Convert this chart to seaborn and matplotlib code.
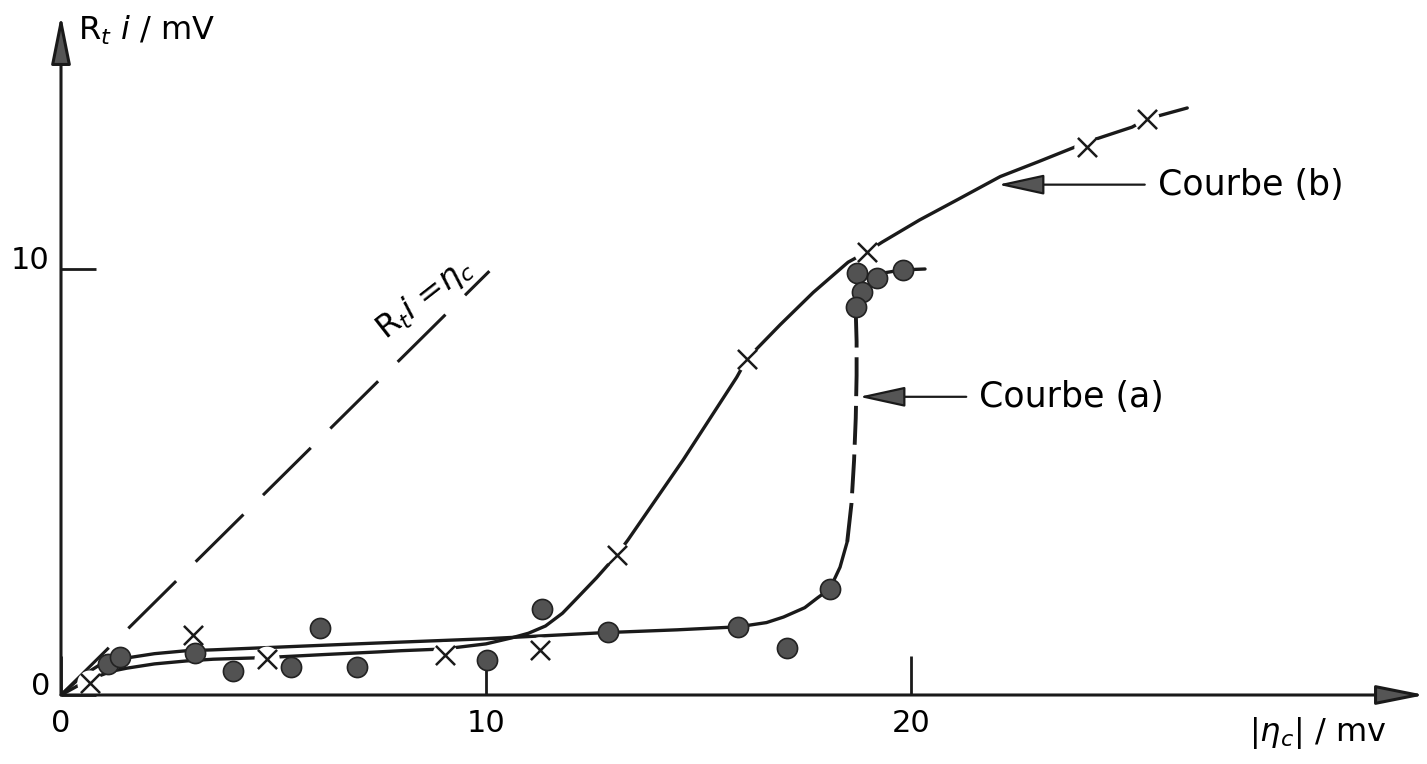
import matplotlib
matplotlib.use('Agg')
import matplotlib.pyplot as plt
import seaborn as sns

# curve (a): filled dots -- flat part, near-vertical dashed rise, top end
a_flat_x = [0, 0.5, 0.9, 1.2, 1.55, 2.2, 2.96, 3.58, 5.5, 7.44, 10.0, 12.7, 14.5,
            15.93, 16.6, 17.0, 17.5, 17.8, 18.09, 18.33, 18.5]
a_flat_y = [0, 0.45, 0.7, 0.8, 0.87, 0.97, 1.04, 1.06, 1.14, 1.22, 1.32, 1.46, 1.53,
            1.6, 1.7, 1.83, 2.05, 2.28, 2.49, 3.0, 3.6]
a_rise_x = [18.5, 18.6, 18.66, 18.7, 18.72, 18.72, 18.7]
a_rise_y = [3.6, 4.5, 5.5, 6.5, 7.5, 8.3, 9.0]
a_top_x = [18.7, 18.8, 19.3, 19.81, 20.33]
a_top_y = [9.1, 9.75, 9.9, 9.98, 10.0]

dots_x = [1.1, 1.39, 3.15, 4.05, 5.41, 6.09, 6.96, 10.02, 11.32, 12.87, 15.93,
          17.08, 18.09, 18.73, 19.2, 18.85, 18.7, 19.81]
dots_y = [0.73, 0.89, 0.99, 0.56, 0.66, 1.57, 0.66, 0.82, 2.02, 1.48, 1.6,
          1.10, 2.49, 9.9, 9.8, 9.45, 9.1, 9.98]

# curve (b): crosses
b_x = [0, 0.4, 0.9, 1.2, 1.55, 2.2, 2.96, 3.58, 4.85, 6.2, 7.44, 8.0, 9.0, 10.0,
       10.6, 11.0, 11.4, 11.8, 12.1, 12.6, 13.08, 13.34, 14.64, 15.9, 16.14, 16.92,
       17.7, 18.52, 18.96, 19.32, 20.2, 21.08, 22.1, 23.0, 23.8, 24.14, 24.5, 25.2,
       25.55, 26.5]
b_y = [0, 0.22, 0.45, 0.56, 0.63, 0.73, 0.80, 0.84, 0.88, 0.95, 1.01, 1.04, 1.08,
       1.2, 1.34, 1.45, 1.62, 1.92, 2.23, 2.75, 3.29, 3.64, 5.52, 7.46, 7.89, 8.69,
       9.45, 10.16, 10.4, 10.63, 11.15, 11.62, 12.17, 12.52, 12.84, 12.98, 13.1,
       13.33, 13.52, 13.78]

cross_x = [0.68, 3.1, 4.85, 9.04, 11.27, 13.08, 16.14, 18.96, 24.14, 25.55]
cross_y = [0.28, 1.41, 0.84, 0.94, 1.06, 3.29, 7.89, 10.4, 12.86, 13.52]

# reference line R_t i = eta_c
diag_x = [0, 10.08]
diag_y = [0, 9.95]

x_ticks = [0, 10, 20]
x_labels = ['0', '10', '20']
y_ticks = [0, 10]
y_labels = ['0', '10']

sns.set_theme(style='white')
plt.rcParams['font.family'] = ['DejaVu Sans']
plt.rcParams['mathtext.fontset'] = 'dejavusans'
plt.rcParams['text.color'] = 'black'
plt.rcParams['xtick.color'] = 'black'
plt.rcParams['ytick.color'] = 'black'

fig = plt.figure(figsize=(14.27, 7.64), dpi=100)
ax = fig.add_axes([61 / 1427, 69 / 764, 1364 / 1427, 680 / 764])
ax.set_xlim(0, 1364 / 42.5)
ax.set_ylim(0, 680 / 42.6)

lw = 2.4
sns.lineplot(x=diag_x, y=diag_y, ax=ax, color='k', lw=2.2, sort=False, estimator=None)
ax.lines[-1].set_dashes((22, 9))
sns.lineplot(x=a_flat_x, y=a_flat_y, ax=ax, color='k', lw=lw, sort=False, estimator=None)
sns.lineplot(x=a_rise_x, y=a_rise_y, ax=ax, color='k', lw=lw + 0.4, sort=False, estimator=None)
ax.lines[-1].set_dashes((10, 2.5))
sns.lineplot(x=a_top_x, y=a_top_y, ax=ax, color='k', lw=lw, sort=False, estimator=None)
sns.lineplot(x=b_x, y=b_y, ax=ax, color='k', lw=lw, sort=False, estimator=None)

# white gaps in curve (b) around each cross, then the crosses
sns.scatterplot(x=cross_x, y=cross_y, ax=ax, s=330, color='white', edgecolor='none',
                zorder=3)
sns.scatterplot(x=cross_x, y=cross_y, ax=ax, marker='x', s=190, color='k',
                linewidth=1.8, zorder=4)
sns.scatterplot(x=dots_x, y=dots_y, ax=ax, s=210, color='#525252', edgecolor='#222222',
                linewidth=1.2, zorder=5)

# axes with arrow heads
for sp in ax.spines.values():
    sp.set_visible(False)
head = dict(arrowstyle='-|>,head_length=1.5,head_width=0.3', lw=2.2, color='k',
            fc='#555555', shrinkA=0, shrinkB=0, mutation_scale=20)
ax.annotate('', xy=(1, 0), xytext=(0, 0), xycoords='axes fraction', arrowprops=head)
ax.annotate('', xy=(0, 1), xytext=(0, 0), xycoords='axes fraction', arrowprops=head)

ax.set_xticks(x_ticks, x_labels, fontsize=22)
ax.set_yticks(y_ticks, y_labels, fontsize=22)
ax.tick_params(axis='x', direction='in', length=28, width=2, color='k', pad=10)
ax.tick_params(axis='y', direction='in', length=25, width=2, color='k', pad=8)
ax.tick_params(bottom=True, left=True)
for lab in ax.get_yticklabels():
    lab.set_va('baseline')
ax.grid(False)

ax.text(0.4, 15.6, r'R$_t$ $i$ / mV', fontsize=23, va='center', ha='left', clip_on=False)
fig.text(1318 / 1427, 1 - 733 / 764, r'$|\eta_c|$ / mv', fontsize=23, ha='center',
         va='center')
ax.text(8.55, 9.3, r'R$_t$$i$ =$\eta_c$', fontsize=23, rotation=38, ha='center',
        va='center')

# curve labels with arrows
arr = dict(arrowstyle='-|>,head_length=1.6,head_width=0.35', lw=1.6, color='k',
           fc='#555555', shrinkA=0, shrinkB=0, mutation_scale=18)
ax.annotate('', xy=(18.78, 7.0), xytext=(21.3, 7.0), arrowprops=arr)
ax.text(21.6, 7.0, 'Courbe (a)', fontsize=25, va='center', ha='left')
ax.annotate('', xy=(22.05, 11.98), xytext=(25.5, 11.98), arrowprops=arr)
ax.text(25.8, 11.98, 'Courbe (b)', fontsize=25, va='center', ha='left')

fig.savefig('out.png', dpi=100)
